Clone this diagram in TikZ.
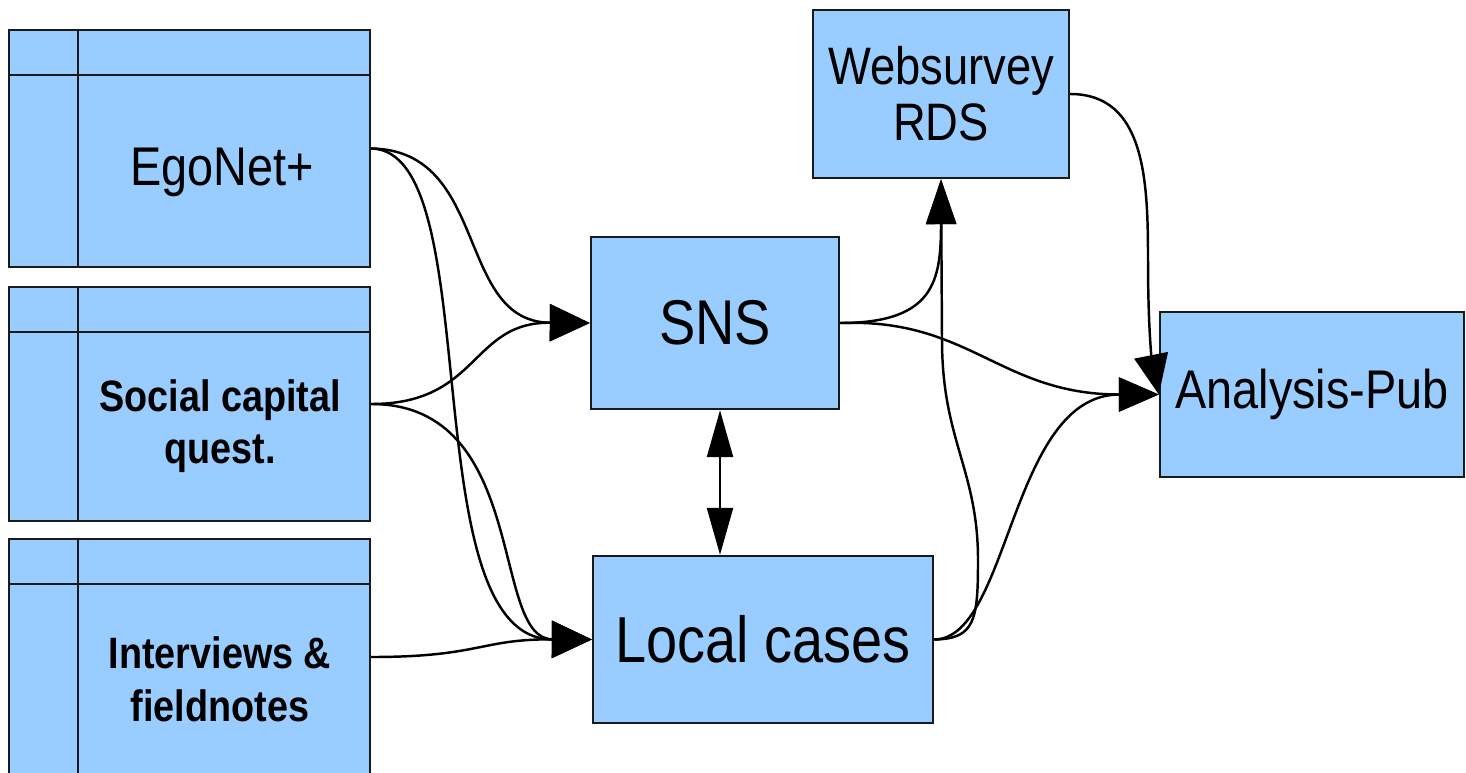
\documentclass[tikz,border=0pt]{standalone}
\usepackage{fontspec}
\setmainfont{Liberation Sans}[FakeStretch=0.86]
\usetikzlibrary{arrows.meta}
\definecolor{boxblue}{HTML}{99CCFF}
\definecolor{edgegray}{HTML}{1A1A1A}
\begin{document}
\begin{tikzpicture}[x=0.02cm,y=-0.02cm,
  box/.style={draw=edgegray,fill=boxblue,line width=1.4pt,inner sep=0pt},
  divider/.style={draw=edgegray,line width=1.4pt},
  conn/.style={line width=1.4pt,draw=black},
  tipA/.style={-{Triangle[length=0.8cm,width=0.74cm]}},
  tipW/.style={-{Triangle[length=0.9cm,width=0.6cm]}},
  tipB/.style={-{Triangle[length=0.8cm,width=0.68cm]}},
  dbl/.style={{Triangle[length=0.94cm,width=0.52cm]}-{Triangle[length=0.94cm,width=0.52cm]}},
  big/.style={font=\fontsize{31}{31}\selectfont},
  bigger/.style={font=\fontsize{36}{36}\selectfont},
  boldtxt/.style={align=center,font=\bfseries\fontsize{25}{30}\selectfont}]
\useasboundingbox (0,0) rectangle (1466,772);
\clip (0,0) rectangle (1466,772);

% left boxes
\node[box,minimum width=7.22cm,minimum height=4.74cm] (ego) at (189.5,148.5) {};
\node[box,minimum width=7.22cm,minimum height=4.68cm] (soc) at (189.5,404) {};
\node[box,minimum width=7.22cm,minimum height=4.72cm] (int) at (189.5,657) {};
\foreach \b in {ego,soc,int}{
  \draw[divider] ([yshift=-0.92cm]\b.north west) -- ([yshift=-0.92cm]\b.north east);
  \draw[divider] ([xshift=1.4cm]\b.north west) -- ([xshift=1.4cm]\b.south west);
}
\node[big] (egoT) at (222,172) {EgoNet+};
\node[boldtxt] (socT) at (220,426) {Social capital\\quest.};
\node[boldtxt] (intT) at (220,679) {Interviews \&\\fieldnotes};

% middle and right boxes
\node[box,minimum width=4.96cm,minimum height=3.44cm,bigger] (sns) at (715,323) {SNS};
\node[box,minimum width=6.8cm,minimum height=3.34cm,font=\fontsize{37}{37}\selectfont] (loc) at (763,639.5) {Local cases};
\node[box,minimum width=5.12cm,minimum height=3.36cm,align=center,font=\fontsize{30}{32}\selectfont] (web) at (941,94) {Websurvey\\RDS};
\node[box,minimum width=6.08cm,minimum height=3.3cm,big] (ana) at (1312,394.5) {Analysis-Pub};

% connectors
\draw[conn,tipA] (ego.east) .. controls (490,150) and (455,322) .. (sns.west);
\draw[conn,tipA] (ego.east) .. controls (490,150) and (410,639) .. (loc.west);
\draw[conn,tipA] (soc.east) .. controls (480,404) and (470,322) .. (sns.west);
\draw[conn,tipA] (soc.east) .. controls (530,404) and (490,639) .. (loc.west);
\draw[conn,tipA] (int.east) .. controls (480,657) and (480,639) .. (loc.west);

\coordinate (dx) at (720,0);
\draw[conn,dbl] (sns.south -| dx) -- (loc.north -| dx);

\draw[conn,tipW] (sns.east) .. controls (935,323) and (941,280) .. (web.south);
\draw[conn,tipB] (sns.east) .. controls (970,318) and (1000,394.5) .. (ana.west);
\draw[conn,tipW] (loc.east) .. controls (975,639) and (978,620) .. (978,560)
   .. controls (978,470) and (942,440) .. (942,340) -- (web.south);
\draw[conn,tipB] (loc.east) .. controls (1010,639) and (1010,394.5) .. (ana.west);
\draw[conn,tipB] (web.east) .. controls (1145,94) and (1148,180) .. (1148,260)
   .. controls (1148,330) and (1152,360) .. (ana.west);
\end{tikzpicture}
\end{document}
